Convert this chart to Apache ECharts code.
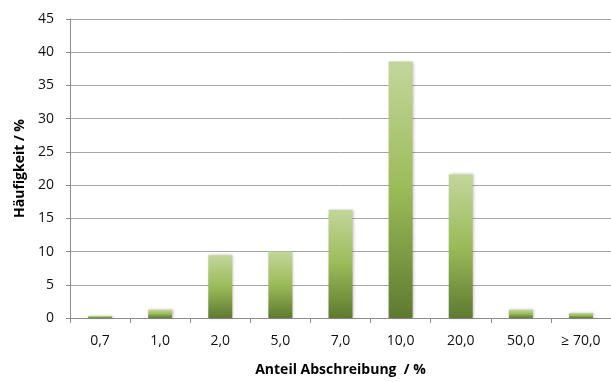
<!DOCTYPE html>
<html><head><meta charset="utf-8">
<script src="https://cdn.jsdelivr.net/npm/echarts@6/dist/echarts.min.js"></script>
<style>html,body{margin:0;padding:0;background:#fff}#c{width:611px;height:382px}</style>
</head><body><div id="c"></div>
<script>
const categories = ['0,7','1,0','2,0','5,0','7,0','10,0','20,0','50,0','\u2265 70,0'];
const values = [0.3, 1.25, 9.45, 10.0, 16.3, 38.6, 21.6, 1.25, 0.75];
const yTicks = {min: 0, max: 45, interval: 5};

const chart = echarts.init(document.getElementById('c'));
const font = '"Open Sans", "Liberation Sans", sans-serif';
chart.setOption({
  animation: false,
  grid: {left: 70, right: -11, top: 19, bottom: 64},
  xAxis: {
    type: 'category', data: categories,
    name: 'Anteil Abschreibung  / %', nameLocation: 'middle', nameGap: 45,
    nameTextStyle: {fontFamily: font, fontWeight: 'bold', fontSize: 14, color: '#000'},
    axisLine: {lineStyle: {color: '#8c8c8c', width: 1}},
    axisTick: {show: true, length: 5, lineStyle: {color: '#8c8c8c'}},
    axisLabel: {fontFamily: font, fontSize: 14, color: '#111', margin: 16}
  },
  yAxis: {
    type: 'value', min: yTicks.min, max: yTicks.max, interval: yTicks.interval,
    name: 'Häufigkeit / %', nameLocation: 'middle', nameGap: 42,
    nameTextStyle: {fontFamily: font, fontWeight: 'bold', fontSize: 14, color: '#000'},
    axisLine: {show: true, lineStyle: {color: '#8c8c8c', width: 1}},
    axisTick: {show: true, length: 4, lineStyle: {color: '#8c8c8c'}},
    axisLabel: {fontFamily: font, fontSize: 14, color: '#111', margin: 16},
    splitLine: {lineStyle: {color: '#a6a6a6', width: 1}}
  },
  series: [{
    type: 'bar', data: values, barWidth: 24,
    itemStyle: {
      color: new echarts.graphic.LinearGradient(0, 0, 0, 1, [
        {offset: 0, color: '#c3d69b'},
        {offset: 0.5, color: '#9bbb59'},
        {offset: 1, color: '#5e7a30'}
      ]),
      shadowColor: 'rgba(0,0,0,0.25)', shadowBlur: 3, shadowOffsetX: 1, shadowOffsetY: 0
    }
  }]
});
</script></body></html>
